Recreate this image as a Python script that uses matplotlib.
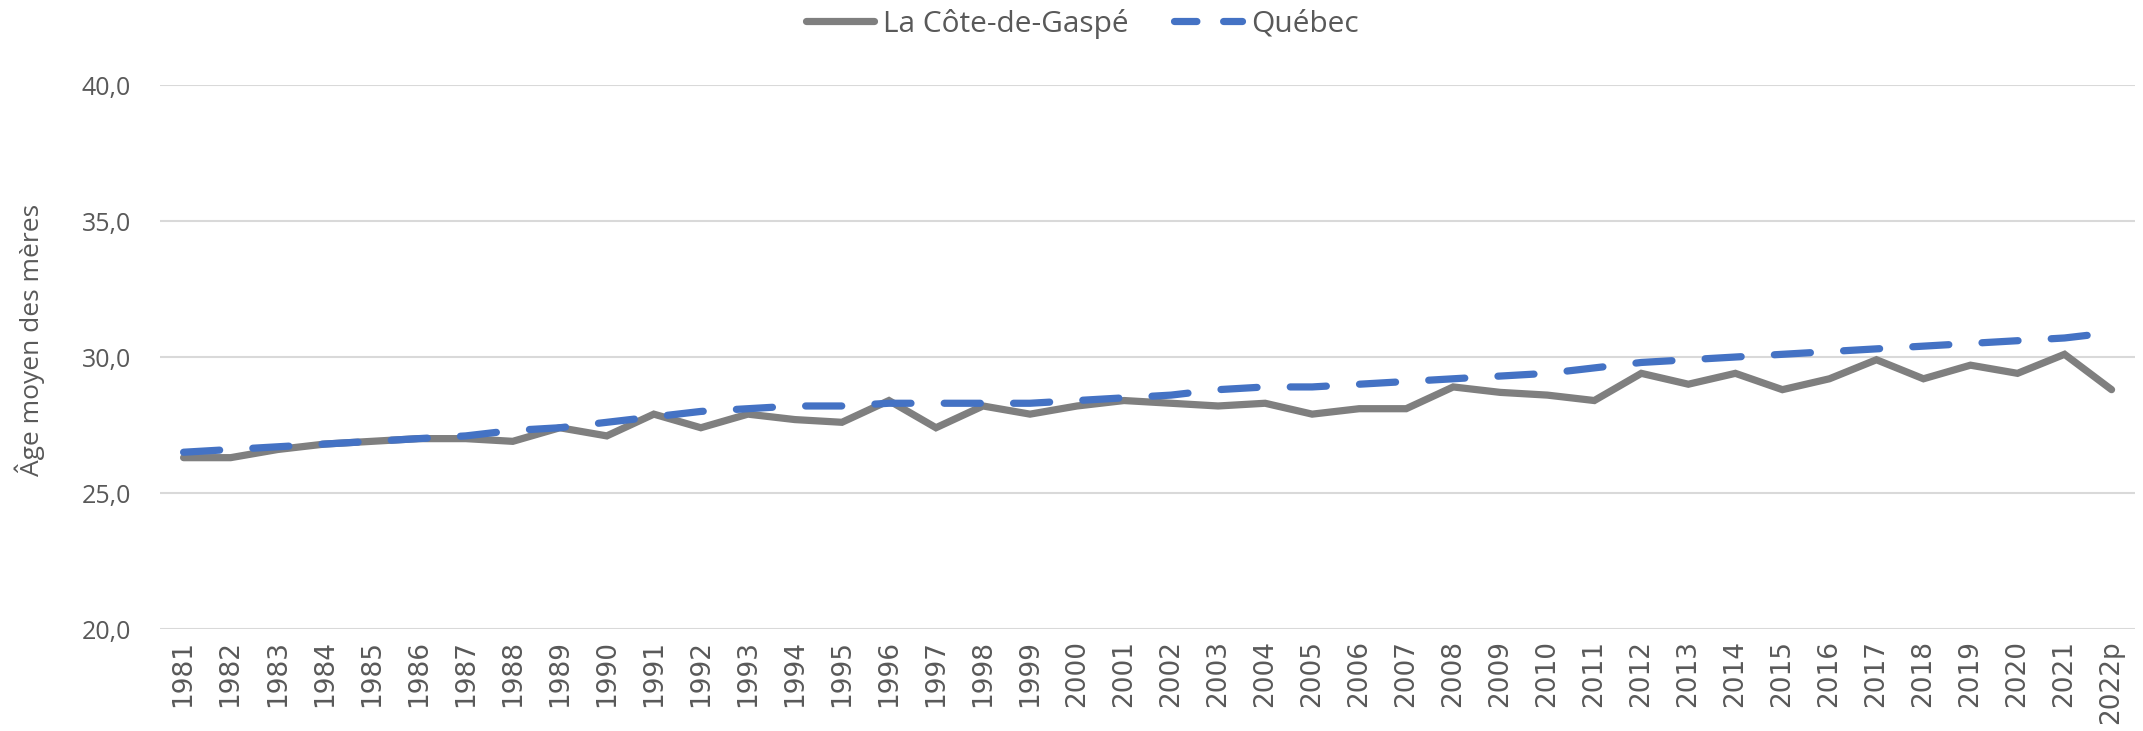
import matplotlib
matplotlib.use("Agg")
import matplotlib.pyplot as plt
from matplotlib.lines import Line2D

years = [str(y) for y in range(1981, 2022)] + ["2022p"]
gaspe = [26.3, 26.3, 26.6, 26.8, 26.9, 27.0, 27.0, 26.9, 27.4, 27.1,
         27.9, 27.4, 27.9, 27.7, 27.6, 28.4, 27.4, 28.2, 27.9, 28.2,
         28.4, 28.3, 28.2, 28.3, 27.9, 28.1, 28.1, 28.9, 28.7, 28.6,
         28.4, 29.4, 29.0, 29.4, 28.8, 29.2, 29.9, 29.2, 29.7, 29.4,
         30.1, 28.8]
quebec = [26.5, 26.6, 26.7, 26.8, 26.9, 27.0, 27.1, 27.3, 27.4, 27.6,
          27.8, 28.0, 28.1, 28.2, 28.2, 28.3, 28.3, 28.3, 28.3, 28.4,
          28.5, 28.6, 28.8, 28.9, 28.9, 29.0, 29.1, 29.2, 29.3, 29.4,
          29.6, 29.8, 29.9, 30.0, 30.1, 30.2, 30.3, 30.4, 30.5, 30.6,
          30.7, 30.9]
yticks = [20, 25, 30, 35, 40]
ytick_labels = ["20,0", "25,0", "30,0", "35,0", "40,0"]

font = "Open Sans"
txt = "#595959"
gray = "#7f7f7f"
blue = "#4472c4"
lw = 5.2

fig = plt.figure(figsize=(21.43, 7.31), dpi=100)
ax = fig.add_axes([0.0747, 0.1395, 0.9216, 0.7442])
x = list(range(len(years)))
ax.plot(x, gaspe, color=gray, lw=lw, solid_capstyle="round",
        solid_joinstyle="miter")
ax.plot(x, quebec, color=blue, lw=lw, dashes=(5, 4.6),
        dash_capstyle="round")

ax.set_xlim(-0.5, len(years) - 0.5)
ax.set_ylim(20, 40)
ax.set_yticks(yticks)
ax.set_yticklabels(ytick_labels, fontfamily=font, fontsize=18, color=txt)
ax.set_xticks(x)
ax.set_xticklabels(years, rotation=90, fontsize=19, color=txt, fontfamily="DejaVu Sans")
ax.tick_params(axis="y", length=0, pad=21)
ax.tick_params(axis="x", length=0, pad=8)
ax.grid(axis="y", color="#d9d9d9", lw=1.5)
ax.set_axisbelow(True)
for s in ax.spines.values():
    s.set_visible(False)
ax.set_ylabel("Âge moyen des mères", fontfamily=font, fontsize=19, color=txt)
ax.yaxis.set_label_coords(-0.0585, 0.531)

handles = [
    Line2D([], [], color=gray, lw=lw, solid_capstyle="round"),
    Line2D([], [], color=blue, lw=lw, dashes=(3.1, 3.7), dash_capstyle="round"),
]
leg = fig.legend(handles, ["La Côte-de-Gaspé", "Québec"], loc="upper center",
                 bbox_to_anchor=(0.505, 1.025), ncol=2, frameon=False,
                 prop={"family": font, "size": 21.5}, handlelength=2.3,
                 columnspacing=1.5, handletextpad=0.3)
for t in leg.get_texts():
    t.set_color(txt)

fig.savefig("out.png", dpi=100)
